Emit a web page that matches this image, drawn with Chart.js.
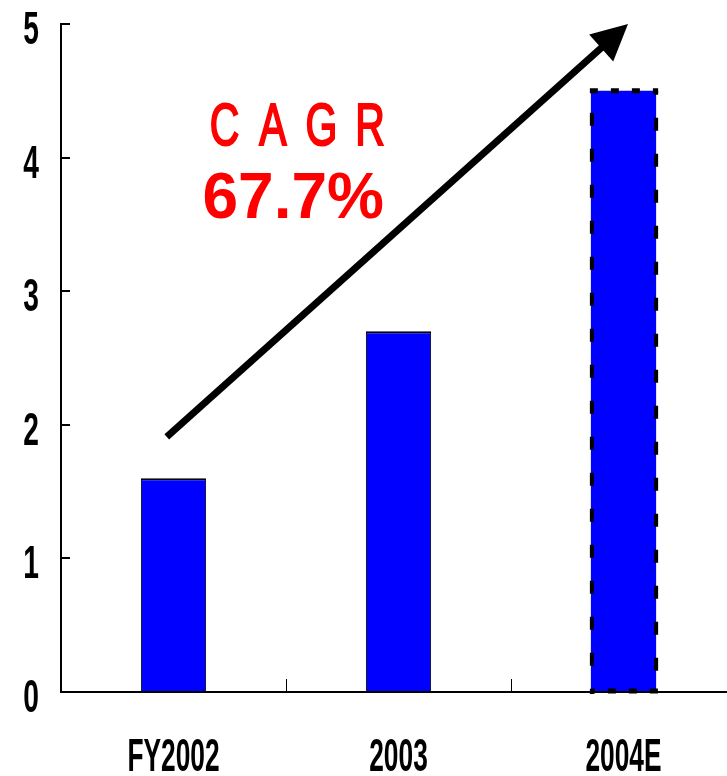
<!DOCTYPE html>
<html>
<head>
<meta charset="utf-8">
<script src="https://cdn.jsdelivr.net/npm/chart.js"></script>
<style>
  html, body { margin: 0; padding: 0; background: #fff; overflow: hidden; }
  canvas { display: block; }
</style>
</head>
<body>
<canvas id="cagrChart" width="737" height="776"></canvas>
<script>
const categories = ['FY2002', '2003', '2004E'];
const values = [1.6, 2.7, 4.5];
const yMin = 0, yMax = 5, yStep = 1;
const estimateIndex = 2; // 2004E drawn with a dashed outline

// arrow and caption, in data units (category index, value)
const arrowFrom = [-0.03, 1.91];
const arrowTo = [2.02, 5.0];
const cagrTitle = 'CAGR';
const cagrValue = '67.7%';
const captionAt = [0.55, 4.09, 3.55]; // x, title baseline, value baseline

const narrowLabels = {
  id: 'narrowLabels',
  afterDraw(chart) {
    const ctx = chart.ctx;
    const xs = chart.scales.x, ys = chart.scales.y;
    ctx.save();
    ctx.fillStyle = '#000';
    ctx.font = 'bold 47px "Liberation Sans", Arial, sans-serif';
    ctx.textAlign = 'center';
    ctx.textBaseline = 'alphabetic';
    ys.ticks.forEach((t, i) => {
      const y = ys.getPixelForTick(i);
      ctx.save();
      ctx.translate(31, y + 20);
      ctx.scale(0.6, 1);
      ctx.fillText(String(t.value), 0, 0);
      ctx.restore();
    });
    xs.ticks.forEach((t, i) => {
      const x = xs.getPixelForTick(i);
      ctx.save();
      ctx.translate(x, 771);
      ctx.scale(0.56, 1);
      ctx.fillText(categories[i], 0, 0);
      ctx.restore();
    });
    ctx.restore();
  }
};

function dashedEdge(ctx, x1, y1, x2, y2, width, dash, offset) {
  ctx.lineWidth = width;
  ctx.setLineDash(dash);
  ctx.lineDashOffset = offset;
  ctx.beginPath();
  ctx.moveTo(x1, y1);
  ctx.lineTo(x2, y2);
  ctx.stroke();
}

const decorations = {
  id: 'decorations',
  afterDatasetsDraw(chart) {
    const ctx = chart.ctx;
    const xs = chart.scales.x, ys = chart.scales.y;

    // dashed outline on the estimate bar
    const bar = chart.getDatasetMeta(0).data[estimateIndex];
    const left = bar.x - bar.width / 2 + 1, right = bar.x + bar.width / 2;
    ctx.save();
    ctx.strokeStyle = '#000';
    dashedEdge(ctx, left - 2, bar.y, right + 2, bar.y, 5, [8, 13], 0);
    dashedEdge(ctx, left, bar.y, left, bar.base + 3, 4, [13, 23], 14);
    dashedEdge(ctx, right, bar.y, right, bar.base, 4, [13, 23], 9);
    dashedEdge(ctx, left, bar.base, right + 2, bar.base, 5, [8, 13], 5);
    ctx.restore();

    // growth arrow
    const x1 = xs.getPixelForValue(arrowFrom[0]), y1 = ys.getPixelForValue(arrowFrom[1]);
    const x2 = xs.getPixelForValue(arrowTo[0]), y2 = ys.getPixelForValue(arrowTo[1]);
    const ang = Math.atan2(y2 - y1, x2 - x1);
    const headLen = 36, headHalf = 18;
    const bx = x2 - headLen * Math.cos(ang), by = y2 - headLen * Math.sin(ang);
    ctx.save();
    ctx.strokeStyle = '#000';
    ctx.fillStyle = '#000';
    ctx.lineWidth = 7;
    ctx.beginPath();
    ctx.moveTo(x1, y1);
    ctx.lineTo(bx + 2 * Math.cos(ang), by + 2 * Math.sin(ang));
    ctx.stroke();
    ctx.beginPath();
    ctx.moveTo(x2, y2);
    ctx.lineTo(bx + headHalf * Math.sin(ang), by - headHalf * Math.cos(ang));
    ctx.lineTo(bx - headHalf * Math.sin(ang), by + headHalf * Math.cos(ang));
    ctx.closePath();
    ctx.fill();
    ctx.restore();

    // CAGR caption
    const cx = xs.getPixelForValue(captionAt[0]);
    ctx.save();
    ctx.fillStyle = '#FF0000';
    ctx.strokeStyle = '#FF0000';
    ctx.lineWidth = 2.2;
    ctx.textAlign = 'center';
    ctx.textBaseline = 'alphabetic';
    ctx.font = '62px "Liberation Sans", Arial, sans-serif';
    const ty = ys.getPixelForValue(captionAt[1]);
    const gap = 48.5;
    cagrTitle.split('').forEach((ch, i) => {
      ctx.save();
      ctx.translate(cx + (i - 1.5) * gap, ty - 1);
      ctx.scale(0.66, 0.97);
      ctx.fillText(ch, 0, 0);
      ctx.strokeText(ch, 0, 0);
      ctx.restore();
    });
    ctx.font = 'bold 64px "Liberation Sans", Arial, sans-serif';
    ctx.fillText(cagrValue, cx - 4, ys.getPixelForValue(captionAt[2]));
    ctx.restore();
  }
};

new Chart(document.getElementById('cagrChart'), {
  type: 'bar',
  data: {
    labels: categories,
    datasets: [{
      data: values,
      backgroundColor: '#0000FF',
      borderColor: '#000',
      borderSkipped: false,
      borderWidth: (c) => c.dataIndex === estimateIndex ? 0 : { top: 2, left: 1, right: 1, bottom: 0 },
      barPercentage: 0.29,
      categoryPercentage: 1
    }]
  },
  options: {
    responsive: false,
    animation: false,
    devicePixelRatio: 1,
    layout: { padding: { top: 24, right: 1, left: 0, bottom: 0 } },
    plugins: { legend: { display: false }, tooltip: { enabled: false } },
    scales: {
      x: {
        offset: true,
        grid: { offset: true, drawOnChartArea: false, drawTicks: true, tickLength: -13, color: '#000', lineWidth: 1 },
        border: { color: '#000', width: 2 },
        ticks: { display: false },
        afterFit: (s) => { s.height = 84; }
      },
      y: {
        min: yMin,
        max: yMax,
        ticks: { stepSize: yStep, display: false },
        grid: { drawOnChartArea: false, drawTicks: true, tickLength: -9, color: '#000', lineWidth: 2 },
        border: { color: '#000', width: 2 },
        afterFit: (s) => { s.width = 61; }
      }
    }
  },
  plugins: [decorations, narrowLabels]
});
</script>
</body>
</html>
